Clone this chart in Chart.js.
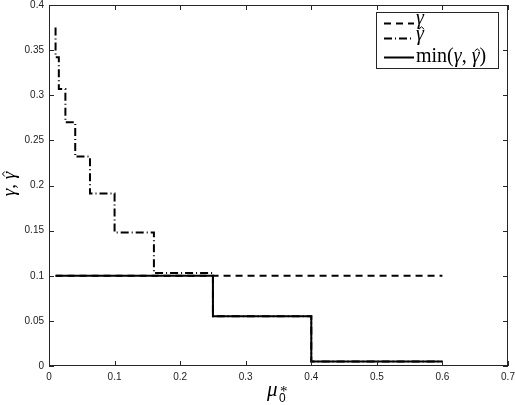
<!DOCTYPE html>
<html>
<head>
<meta charset="utf-8">
<script src="https://cdn.jsdelivr.net/npm/chart.js@4/dist/chart.umd.min.js"></script>
<style>
  html, body { margin: 0; padding: 0; background: #fff; }
</style>
</head>
<body>
<canvas id="stepChart" width="515" height="405"></canvas>
<script>
// values
const gammaX = [0.01, 0.6];
const gammaY = [0.1, 0.1];

const hatX = [0.01, 0.01, 0.015, 0.015, 0.025, 0.025, 0.04, 0.04, 0.0625, 0.0625, 0.1, 0.1, 0.16, 0.16, 0.25, 0.25, 0.4, 0.4, 0.6];
const hatY = [0.375, 0.342, 0.342, 0.307, 0.307, 0.27, 0.27, 0.232, 0.232, 0.191, 0.191, 0.148, 0.148, 0.103, 0.103, 0.055, 0.055, 0.005, 0.005];

const minX = [0.01, 0.25, 0.25, 0.4, 0.4, 0.6];
const minY = [0.1, 0.1, 0.055, 0.055, 0.005, 0.005];

const xTicks = [0, 0.1, 0.2, 0.3, 0.4, 0.5, 0.6, 0.7];
const yTicks = [0, 0.05, 0.1, 0.15, 0.2, 0.25, 0.3, 0.35, 0.4];

const toPoints = (xs, ys) => xs.map((x, i) => ({ x: x, y: ys[i] }));
const fmt = v => String(+v.toFixed(2));

const AXIS = '#262626';
const SERIF = '"Liberation Serif", "DejaVu Serif", serif';

// runs are [text, italic, hat]; returns width (draws when draw=true)
function drawRuns(ctx, runs, x, y, size, draw) {
    const x0 = x;
    runs.forEach(r => {
        ctx.font = (r[1] ? 'italic ' : '') + size + 'px ' + SERIF;
        const w = ctx.measureText(r[0]).width;
        if (draw) {
            ctx.fillText(r[0], x, y);
            if (r[2]) {
                // circumflex accent above the glyph
                const cx = x + w / 2 + size * 0.08, top = y - size * 0.66, hw = size * 0.13;
                ctx.save();
                ctx.strokeStyle = '#000';
                ctx.lineWidth = 1;
                ctx.setLineDash([]);
                ctx.beginPath();
                ctx.moveTo(cx - hw, top + size * 0.12);
                ctx.lineTo(cx, top);
                ctx.lineTo(cx + hw, top + size * 0.12);
                ctx.stroke();
                ctx.restore();
            }
        }
        x += w;
    });
    return x - x0;
}

// frame, inward ticks, axis titles and legend (MATLAB look)
const matlabAxes = {
    id: 'matlabAxes',
    afterDraw(chart) {
        const ctx = chart.ctx;
        const a = chart.chartArea;
        const xs = chart.scales.x, ys = chart.scales.y;
        ctx.save();
        ctx.strokeStyle = AXIS;
        ctx.lineWidth = 1;
        ctx.strokeRect(a.left + 0.5, a.top + 0.5, a.right - a.left - 1, a.bottom - a.top - 1);
        ctx.beginPath();
        xTicks.forEach(v => {
            const px = Math.round(xs.getPixelForValue(v)) + 0.5;
            ctx.moveTo(px, a.bottom); ctx.lineTo(px, a.bottom - 5);
            ctx.moveTo(px, a.top); ctx.lineTo(px, a.top + 5);
        });
        yTicks.forEach(v => {
            const py = Math.round(ys.getPixelForValue(v)) + 0.5;
            ctx.moveTo(a.left, py); ctx.lineTo(a.left + 5, py);
            ctx.moveTo(a.right, py); ctx.lineTo(a.right - 5, py);
        });
        ctx.stroke();

        ctx.fillStyle = '#000';
        ctx.textBaseline = 'alphabetic';
        ctx.textAlign = 'left';

        // x title: mu_0^*
        ctx.font = 'italic 21px ' + SERIF;
        ctx.fillText('μ', 267, 396);
        ctx.font = '12px "Liberation Sans", sans-serif';
        ctx.fillText('0', 279, 402);
        ctx.font = '15px ' + SERIF;
        ctx.fillText('*', 280, 396);

        // y title, rotated
        ctx.save();
        ctx.translate(15, 184);
        ctx.rotate(-Math.PI / 2);
        const yt = [['γ', true], [', ', false], ['γ', true, true]];
        const w = drawRuns(ctx, yt, 0, 0, 19, false);
        drawRuns(ctx, yt, -w / 2, 0, 19, true);
        ctx.restore();

        // legend box
        const box = { l: 376, t: 12, r: 498, b: 68 };
        ctx.fillStyle = '#fff';
        ctx.fillRect(box.l, box.t, box.r - box.l, box.b - box.t);
        ctx.strokeStyle = AXIS;
        ctx.strokeRect(box.l + 0.5, box.t + 0.5, box.r - box.l, box.b - box.t);
        const rows = [
            { ds: 0, y: 23, base: 24, runs: [['γ', true]] },
            { ds: 1, y: 38, base: 40, runs: [['γ', true, true]] },
            { ds: 2, y: 57, base: 62, runs: [['min(', false], ['γ', true], [', ', false], ['γ', true, true], [')', false]] }
        ];
        rows.forEach(row => {
            const ds = chart.data.datasets[row.ds];
            ctx.strokeStyle = '#000';
            ctx.lineWidth = ds.borderWidth;
            ctx.setLineDash(ds.borderDash || []);
            ctx.beginPath();
            ctx.moveTo(384, row.y + 0.5);
            ctx.lineTo(414, row.y + 0.5);
            ctx.stroke();
            ctx.setLineDash([]);
            ctx.fillStyle = '#000';
            drawRuns(ctx, row.runs, 416, row.base, 20, true);
        });
        ctx.restore();
    }
};

new Chart(document.getElementById('stepChart').getContext('2d'), {
    type: 'line',
    data: {
        datasets: [
            { label: 'γ', data: toPoints(gammaX, gammaY), borderColor: '#000', borderWidth: 2, borderDash: [7, 5], order: 2 },
            { label: 'γ̂', data: toPoints(hatX, hatY), borderColor: '#000', borderWidth: 2, borderDash: [8, 3, 1, 3], order: 3 },
            { label: 'min(γ, γ̂)', data: toPoints(minX, minY), borderColor: '#000', borderWidth: 2, order: 1 }
        ]
    },
    options: {
        responsive: false,
        animation: false,
        parsing: false,
        elements: { point: { radius: 0 }, line: { tension: 0 } },
        layout: { padding: { top: 5, right: 7, left: 0, bottom: 0 } },
        plugins: { legend: { display: false }, tooltip: { enabled: false } },
        scales: {
            x: {
                type: 'linear', min: 0, max: 0.7,
                afterFit: s => { s.height = 39; s.paddingLeft = 0; s.paddingRight = 0; },
                afterBuildTicks: s => { s.ticks = xTicks.map(v => ({ value: v })); },
                grid: { display: false, drawTicks: false },
                border: { display: false },
                ticks: { padding: 5, color: '#222', font: { family: '"Liberation Sans", sans-serif', size: 10 }, callback: fmt, maxRotation: 0 }
            },
            y: {
                type: 'linear', min: 0, max: 0.4,
                afterFit: s => { s.width = 49; s.paddingTop = 0; s.paddingBottom = 0; },
                afterBuildTicks: s => { s.ticks = yTicks.map(v => ({ value: v })); },
                grid: { display: false, drawTicks: false },
                border: { display: false },
                ticks: { padding: 5, color: '#222', font: { family: '"Liberation Sans", sans-serif', size: 10 }, callback: fmt }
            }
        }
    },
    plugins: [matlabAxes]
});
</script>
</body>
</html>
